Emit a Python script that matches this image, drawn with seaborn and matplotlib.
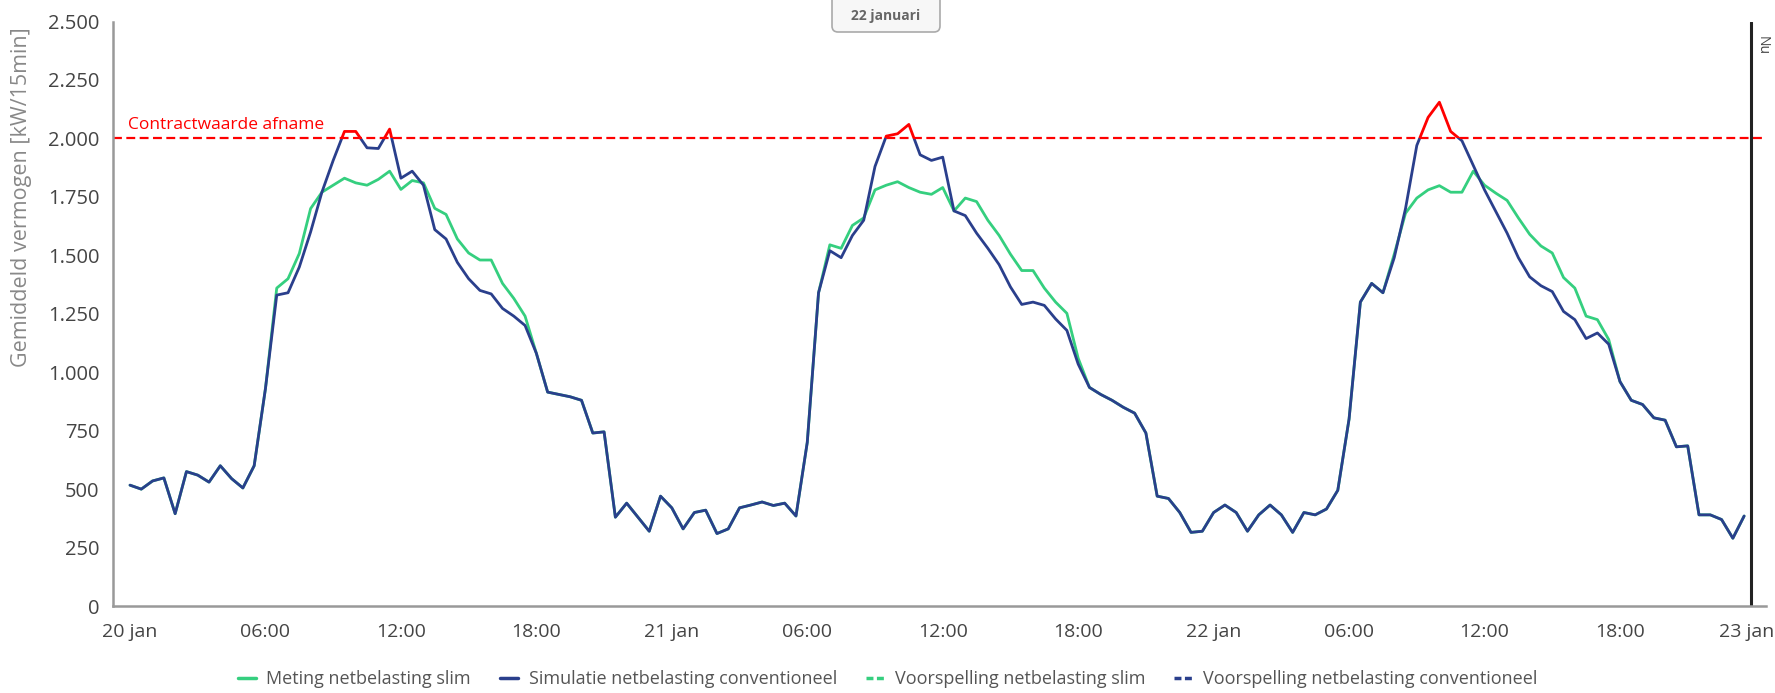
import matplotlib
matplotlib.use('Agg')
import matplotlib.pyplot as plt
import matplotlib.dates as mdates
import matplotlib.transforms as mtransforms
from matplotlib.lines import Line2D
from matplotlib.patches import Rectangle, FancyBboxPatch
from matplotlib.ticker import FuncFormatter
import numpy as np
import pandas as pd
import seaborn as sns

# half-hourly values, 20 jan 00:00 .. 22 jan 23:30 (kW/15min)
conv = [517, 500, 535, 548, 395, 575, 560, 530, 600, 545, 505, 600,
        930, 1330, 1340, 1450, 1600, 1770, 1906, 2030, 2030, 1960, 1957, 2040,
        1830, 1860, 1800, 1610, 1570, 1470, 1400, 1350, 1335, 1273, 1240, 1200,
        1081, 915, 905, 895, 880, 740, 745, 380, 440, 380, 320, 470,
        420, 330, 400, 410, 310, 330, 420, 432, 445, 430, 440, 385,
        700, 1340, 1520, 1490, 1585, 1650, 1880, 2010, 2020, 2060, 1930, 1906,
        1920, 1690, 1670, 1595, 1530, 1460, 1365, 1290, 1300, 1286, 1228, 1179,
        1035, 935, 905, 880, 850, 825, 740, 470, 460, 400, 315, 320,
        400, 432, 400, 320, 390, 432, 390, 315, 400, 390, 415, 495,
        800, 1300, 1380, 1340, 1490, 1700, 1970, 2090, 2155, 2030, 1990, 1885,
        1780, 1688, 1595, 1490, 1408, 1370, 1345, 1260, 1225, 1144, 1168, 1120,
        960, 880, 862, 805, 795, 681, 685, 390, 390, 370, 290, 385]

slim = [517, 500, 535, 548, 395, 575, 560, 530, 600, 545, 505, 600,
        930, 1360, 1400, 1508, 1700, 1770, 1800, 1830, 1810, 1800, 1825, 1860,
        1782, 1820, 1810, 1701, 1675, 1570, 1510, 1480, 1480, 1380, 1316, 1240,
        1081, 915, 905, 895, 880, 740, 745, 380, 440, 380, 320, 470,
        420, 330, 400, 410, 310, 330, 420, 432, 445, 430, 440, 385,
        700, 1340, 1545, 1530, 1628, 1660, 1780, 1800, 1815, 1790, 1770, 1761,
        1790, 1690, 1745, 1730, 1650, 1585, 1505, 1435, 1435, 1360, 1300, 1252,
        1060, 935, 905, 880, 850, 825, 740, 470, 460, 400, 315, 320,
        400, 432, 400, 320, 390, 432, 390, 315, 400, 390, 415, 495,
        800, 1300, 1380, 1340, 1505, 1680, 1745, 1780, 1798, 1770, 1770, 1860,
        1800, 1766, 1735, 1660, 1590, 1540, 1510, 1405, 1360, 1240, 1225, 1140,
        960, 880, 862, 805, 795, 681, 685, 390, 390, 370, 290, 385]

series_labels = ['Meting netbelasting slim', 'Simulatie netbelasting conventioneel',
                 'Voorspelling netbelasting slim', 'Voorspelling netbelasting conventioneel']
contract = 2000
y_ticks = [0, 250, 500, 750, 1000, 1250, 1500, 1750, 2000, 2250, 2500]

GREEN = '#35cf7f'
BLUE = '#2a3f8c'
RED = '#ff0000'

times = pd.date_range('2021-01-20 00:00', periods=len(conv), freq='30min')
df = pd.DataFrame({'tijd': times, 'slim': slim, 'conv': conv})
nu = pd.Timestamp('2021-01-22 23:48')

sns.set_style('white')
plt.rcParams['font.family'] = ['Open Sans', 'DejaVu Sans']

fig = plt.figure(figsize=(17.75, 6.93), dpi=100)
ax = fig.add_axes([0.0637, 0.1255, 0.931, 0.8434])

kw = dict(lw=2.0, errorbar=None, ax=ax, solid_joinstyle='round', solid_capstyle='round')
sns.lineplot(data=df, x='tijd', y='slim', color=GREEN, **kw)
sns.lineplot(data=df, x='tijd', y='conv', color=BLUE, **kw)
blue_line = ax.lines[-1]
sns.lineplot(data=df, x='tijd', y='conv', color=RED, **kw)
red_line = ax.lines[-1]

# colour the part above the contract value red
x0 = mdates.date2num(times[0]) - 2
below = Rectangle((x0, -5000), 10, 5000 + contract, transform=ax.transData)
above = Rectangle((x0, contract), 10, 5000, transform=ax.transData)
blue_line.set_clip_path(below)
red_line.set_clip_path(above)

ax.axhline(contract, color=RED, lw=1.6, ls=(0, (4, 2)))
ax.text(times[0] - pd.Timedelta(minutes=6), contract + 22, 'Contractwaarde afname',
        color=RED, fontsize=12.5, ha='left', va='bottom')

ax.axvline(nu, color='#222', lw=2.2)
ax.text(nu + pd.Timedelta(minutes=10), 2440, 'Nu', rotation=270, color='#444',
        fontsize=10, ha='left', va='top')

ax.set_xlim(times[0] - pd.Timedelta(minutes=45), pd.Timestamp('2021-01-23 00:27'))
ax.set_ylim(0, 2500)
ax.set_xticks(pd.date_range('2021-01-20', '2021-01-23', freq='6h'))

def fmt_x(v, pos):
    d = mdates.num2date(v)
    if d.hour == 0:
        return f'{d.day} jan'
    return d.strftime('%H:%M')

ax.xaxis.set_major_formatter(FuncFormatter(fmt_x))
ax.set_yticks(y_ticks)
ax.yaxis.set_major_formatter(FuncFormatter(lambda v, p: f'{int(v):,}'.replace(',', '.')))

ax.tick_params(axis='x', length=9, width=1.2, colors='#999', labelcolor='#444', labelsize=14, pad=3)
ax.tick_params(axis='y', length=7, width=1.2, colors='#999', labelcolor='#444', labelsize=14.5, pad=3)
for s in ['top', 'right']:
    ax.spines[s].set_visible(False)
for s in ['left', 'bottom']:
    ax.spines[s].set_color('#999')
    ax.spines[s].set_linewidth(1.8)

# keep the last date label inside the figure
fig.canvas.draw()
last = ax.get_xticklabels()[-1]
last.set_transform(last.get_transform() + mtransforms.ScaledTranslation(-0.09, 0, fig.dpi_scale_trans))

ax.set_xlabel('')
ax.set_ylabel('Gemiddeld vermogen [kW/15min]', color='#888', fontsize=15.5)
ax.yaxis.set_label_coords(-0.049, 0.70)

handles = [Line2D([], [], color=GREEN, lw=2.5),
           Line2D([], [], color=BLUE, lw=2.5),
           Line2D([], [], color=GREEN, lw=2.5, ls=(0, (2, 1))),
           Line2D([], [], color=BLUE, lw=2.5, ls=(0, (2, 1)))]
leg = fig.legend(handles, series_labels, loc='center', bbox_to_anchor=(0.5, 0.02), ncol=4,
                 frameon=False, fontsize=13, handlelength=1.0, handletextpad=0.6,
                 columnspacing=1.6)
for t in leg.get_texts():
    t.set_color('#555')

# date badge at the top
badge = FancyBboxPatch((8.32, 6.61), 1.08, 0.5, boxstyle='round,pad=0,rounding_size=0.06',
                       transform=fig.dpi_scale_trans, fc='#f7f7f7', ec='#aaa', lw=1.2)
fig.patches.append(badge)
fig.text(8.86 / 17.75, 1 - 16 / 693, '22 januari', ha='center', va='center',
         fontsize=10, fontweight='bold', color='#666')

plt.savefig('out.png', dpi=100)
